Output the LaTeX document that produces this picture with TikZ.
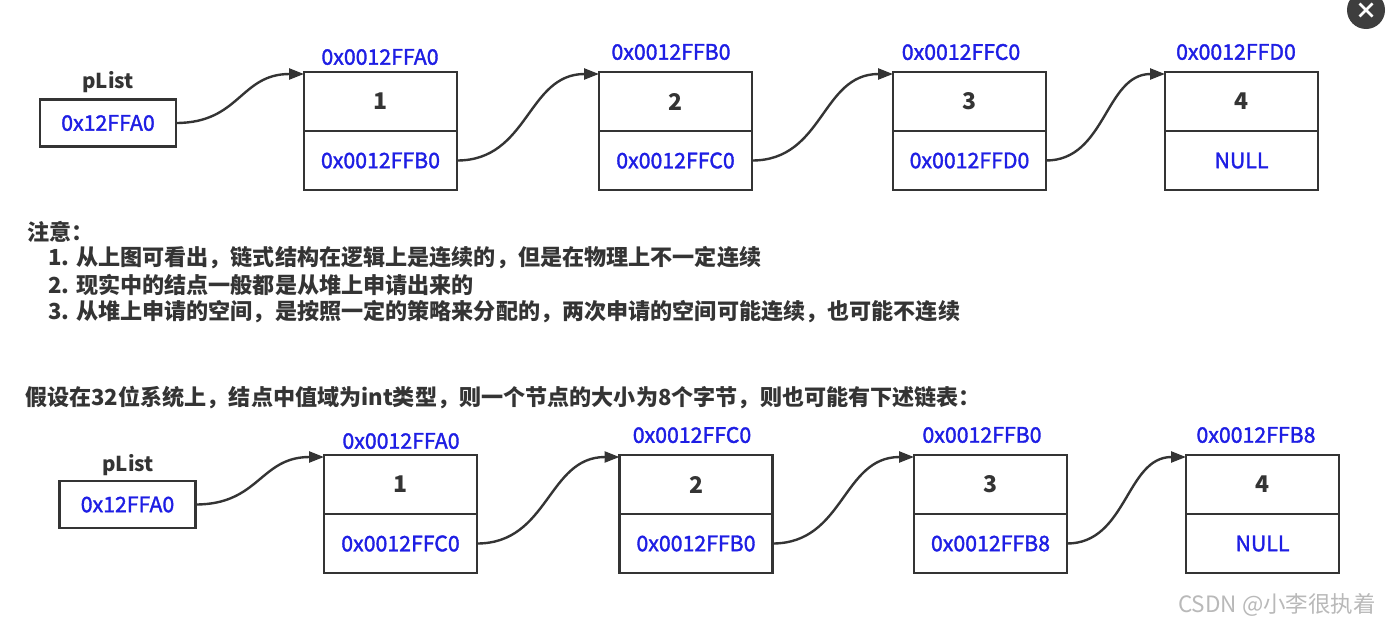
\documentclass[tikz,border=0pt]{standalone}
\usepackage{fontspec}
\setmainfont{Noto Sans CJK SC}
\usetikzlibrary{arrows.meta}
\definecolor{ptrblue}{RGB}{30,30,228}
\definecolor{ink}{RGB}{52,52,52}
\definecolor{wmgray}{RGB}{185,185,185}
\newfontfamily\myhexfam[FakeBold=1.6]{Noto Sans CJK SC}
\newcommand\myhexfont{\myhexfam\fontsize{21.3}{21.3}\selectfont}
\newcommand\myvalfont{\bfseries\fontsize{23}{23}\selectfont}
\newcommand\mynotefont{\bfseries\fontsize{22.1}{22.1}\selectfont}
\begin{document}
\begin{tikzpicture}[x=1pt,y=-1pt,
  cell/.style={draw=ink, line width=2.8pt, minimum width=153pt, minimum height=59pt, inner sep=0pt, outer sep=0pt},
  valcell/.style={cell, text=ink, font=\myvalfont},
  ptrcell/.style={cell, text=ptrblue, font=\myhexfont},
  addr/.style={text=ptrblue, font=\myhexfont, inner sep=0pt},
  plbox/.style={draw=ink, line width=2.8pt, minimum width=136pt, minimum height=47pt, inner sep=0pt, outer sep=0pt, text=ptrblue, font=\myhexfont},
  pllabel/.style={text=ink, font=\bfseries\fontsize{20.5}{20.5}\selectfont, inner sep=0pt},
  conn/.style={draw=ink, line width=2.4pt, -{Triangle[length=15pt,width=11pt]}},
  note/.style={anchor=west, inner sep=0pt, text=ink, font=\mynotefont},
]
\useasboundingbox[fill=white] (0,0) rectangle (1400,624);

% ---------- top list ----------
\node[plbox] (pa) at (108,123) {0x12FFA0};
\node[pllabel] (pal) at (108,82) {pList};

\node[valcell] (a1v) at (380.5,101.5) {1};
\node[ptrcell] (a1p) at (380.5,160.5) {0x0012FFB0};
\node[addr] (a1a) at (380,57) {0x0012FFA0};

\node[valcell] (a2v) at (675.5,101.5) {2};
\node[ptrcell] (a2p) at (675.5,160.5) {0x0012FFC0};
\node[addr] (a2a) at (671,52) {0x0012FFB0};

\node[valcell] (a3v) at (969.5,101.5) {3};
\node[ptrcell] (a3p) at (969.5,160.5) {0x0012FFD0};
\node[addr] (a3a) at (961,52) {0x0012FFC0};

\node[valcell] (a4v) at (1241.5,101.5) {4};
\node[ptrcell] (a4p) at (1241.5,160.5) {NULL};
\node[addr] (a4a) at (1236,52) {0x0012FFD0};

\draw[conn] (pa.east) .. controls +(64,0) and +(-64,0) .. ([yshift=-2pt]a1v.north west);
\draw[conn] (a1p.east) .. controls +(72,0) and +(-72,0) .. ([yshift=-2pt]a2v.north west);
\draw[conn] (a2p.east) .. controls +(72,0) and +(-72,0) .. ([yshift=-2pt]a3v.north west);
\draw[conn] (a3p.east) .. controls +(60,0) and +(-60,0) .. ([yshift=-2pt]a4v.north west);

% ---------- notes ----------
\node[note] (n0) at (27,232) {注意：};
\node[note] (n1) at (48,258) {1. 从上图可看出，链式结构在逻辑上是连续的，但是在物理上不一定连续};
\node[note] (n2) at (48,285) {2. 现实中的结点一般都是从堆上申请出来的};
\node[note] (n3) at (48,312) {3. 从堆上申请的空间，是按照一定的策略来分配的，两次申请的空间可能连续，也可能不连续};
\node[note] (n4) at (25,398) {假设在32位系统上，结点中值域为int类型，则一个节点的大小为8个字节，则也可能有下述链表：};

% ---------- bottom list ----------
\node[plbox] (pb) at (127.5,504.5) {0x12FFA0};
\node[pllabel] (pbl) at (128,465) {pList};

\node[valcell] (b1v) at (400.5,484.5) {1};
\node[ptrcell] (b1p) at (400.5,543.5) {0x0012FFC0};
\node[addr] (b1a) at (401,441) {0x0012FFA0};

\node[valcell] (b2v) at (696,484.5) {2};
\node[ptrcell] (b2p) at (696,543.5) {0x0012FFB0};
\node[addr] (b2a) at (692,435) {0x0012FFC0};

\node[valcell] (b3v) at (990.5,484.5) {3};
\node[ptrcell] (b3p) at (990.5,543.5) {0x0012FFB8};
\node[addr] (b3a) at (982,435) {0x0012FFB0};

\node[valcell] (b4v) at (1262.5,484.5) {4};
\node[ptrcell] (b4p) at (1262.5,543.5) {NULL};
\node[addr] (b4a) at (1256,435) {0x0012FFB8};

\draw[conn] (pb.east) .. controls +(64,0) and +(-64,0) .. ([yshift=-2pt]b1v.north west);
\draw[conn] (b1p.east) .. controls +(72,0) and +(-72,0) .. ([yshift=-2pt]b2v.north west);
\draw[conn] (b2p.east) .. controls +(72,0) and +(-72,0) .. ([yshift=-2pt]b3v.north west);
\draw[conn] (b3p.east) .. controls +(60,0) and +(-60,0) .. ([yshift=-2pt]b4v.north west);

% ---------- watermark and close button ----------
\node[anchor=west, inner sep=0pt, text=wmgray, font=\fontsize{22.5}{22.5}\selectfont] (wm) at (1178,605) {CSDN @小李很执着};
\node[circle, fill=ink!95, minimum size=38pt, inner sep=0pt] (cb) at (1366,10) {};
\draw[white, line width=2.6pt] ([shift={(-6.5pt,-6.5pt)}]cb.center) -- ([shift={(6.5pt,6.5pt)}]cb.center);
\draw[white, line width=2.6pt] ([shift={(-6.5pt,6.5pt)}]cb.center) -- ([shift={(6.5pt,-6.5pt)}]cb.center);
\end{tikzpicture}
\end{document}
